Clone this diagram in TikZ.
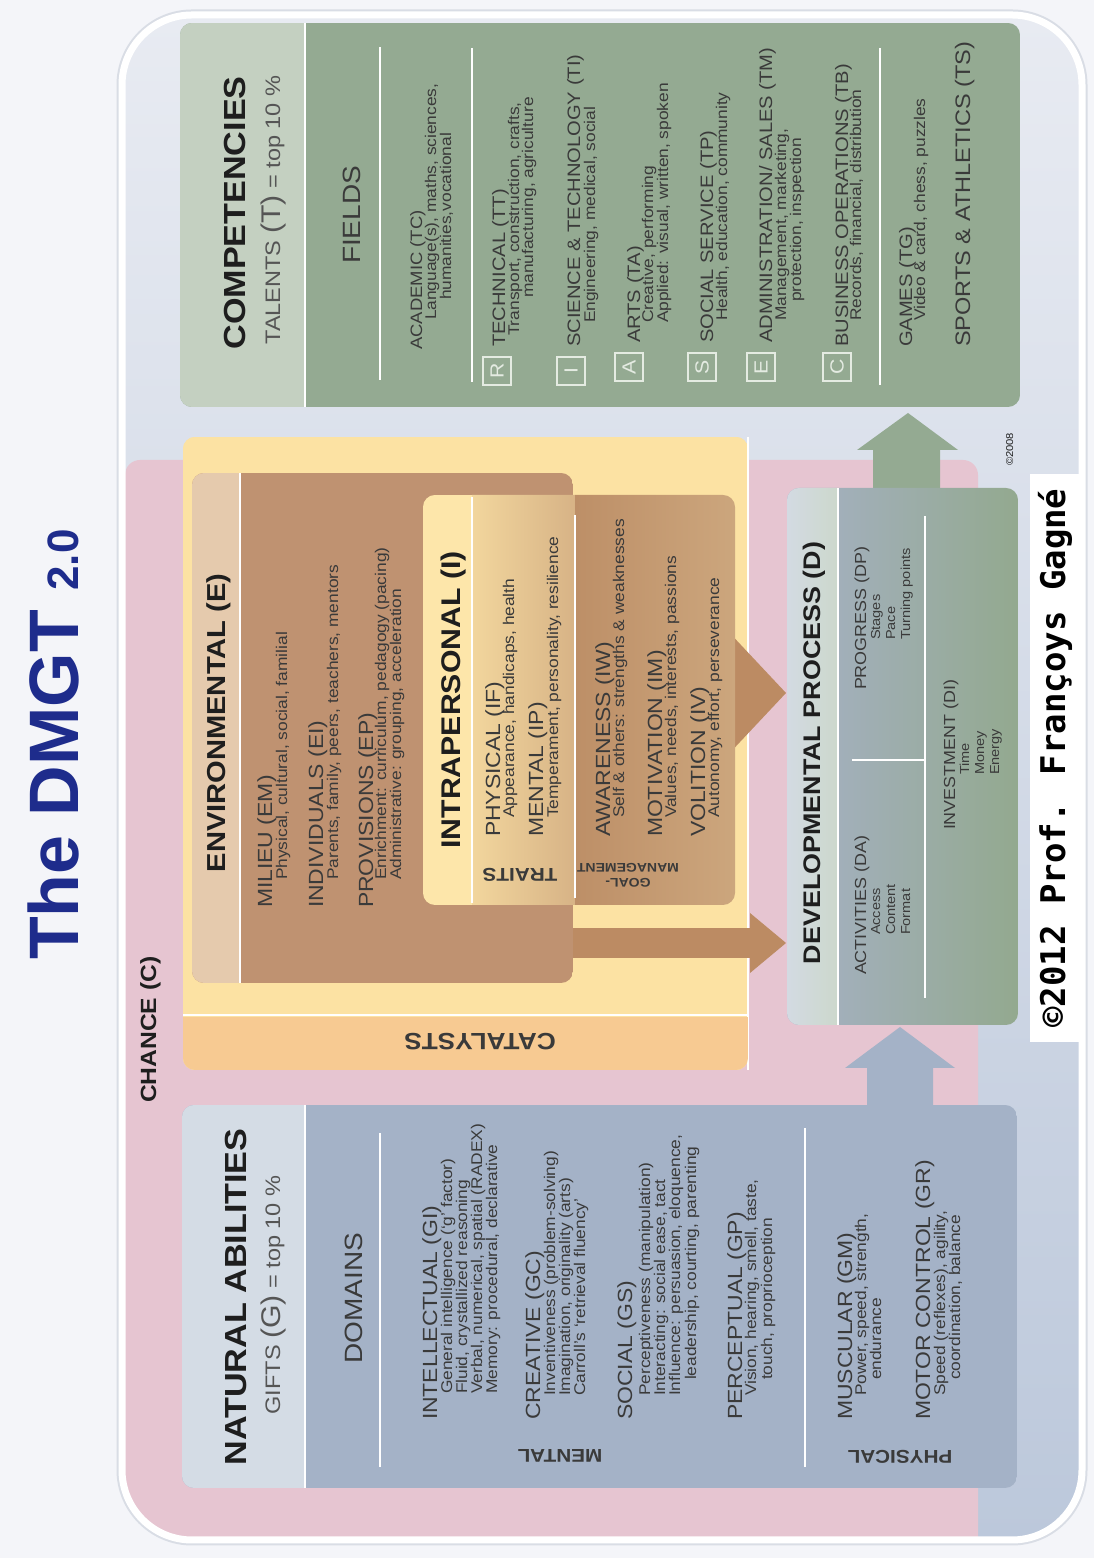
\documentclass[tikz,border=0pt]{standalone}
\usepackage{fontspec}
\setmainfont{Liberation Sans}[FakeStretch=1.12]
\newfontfamily\titlefont{Liberation Sans}
\newfontfamily\bannerfont{DejaVu Sans Mono}
\definecolor{page}{HTML}{F4F5F9}
\definecolor{framein}{HTML}{E8EBF2}
\definecolor{frameout}{HTML}{BCC8DB}
\definecolor{framegray}{HTML}{D9DDE5}
\definecolor{chance}{HTML}{E6C5D1}
\definecolor{nahead}{HTML}{D4DCE5}
\definecolor{nabody}{HTML}{A4B2C7}
\definecolor{cohead}{HTML}{C4D0C1}
\definecolor{cobody}{HTML}{94AA92}
\definecolor{catfill}{HTML}{FCE2A3}
\definecolor{catstrip}{HTML}{F7CA92}
\definecolor{envhead}{HTML}{E5CAAD}
\definecolor{envbody}{HTML}{BF9271}
\definecolor{inthead}{HTML}{FDE6AA}
\definecolor{traitA}{HTML}{F2D69D}
\definecolor{traitB}{HTML}{D7B386}
\definecolor{goalA}{HTML}{BD8F67}
\definecolor{goalB}{HTML}{CCA67D}
\definecolor{arrowbrown}{HTML}{BC8B63}
\definecolor{devheadA}{HTML}{D3DAE2}
\definecolor{devheadB}{HTML}{CCD8CC}
\definecolor{devA}{HTML}{A6B1C6}
\definecolor{devB}{HTML}{93A98F}
\definecolor{titleblue}{HTML}{1E2C8C}
\definecolor{ink}{HTML}{1E1E1E}
\definecolor{subink}{HTML}{555555}
\definecolor{noteink}{HTML}{3A3A3A}
\definecolor{iconline}{HTML}{E4EBE2}

% a rounded box with a header band; #1..#4 corners, #5 header edge, #6 header look, #7 body look
\newcommand\headbox[7]{%
  \begin{scope}
    \clip[rounded corners=12] (#1,#2) rectangle (#3,#4);
    \path[#7] (#1,#2) rectangle (#3,#4);
    \path[#6] (#1,#2) rectangle (#3,#5);
  \end{scope}
  \draw[sep] (#1,#5) -- (#3,#5);}

\tikzset{
  txt/.style={inner sep=0pt, outer sep=0pt, text=ink},
  hbig/.style={txt, anchor=base, font=\bfseries\fontsize{30.5}{30.5}\selectfont},
  hsub/.style={txt, anchor=base, text=subink, font=\fontsize{21}{21}\selectfont},
  hmid/.style={txt, anchor=base, text=noteink, font=\fontsize{25}{25}\selectfont},
  hbox/.style={txt, anchor=base, font=\bfseries\fontsize{26}{26}\selectfont},
  item/.style={txt, anchor=base west, text=noteink, font=\fontsize{20.5}{20.5}\selectfont},
  citem/.style={item, font=\fontsize{18}{18}\selectfont},
  ditem/.style={item, font=\fontsize{16}{16}\selectfont},
  note/.style={txt, anchor=base west, text=noteink, font=\fontsize{15.5}{15.5}\selectfont},
  dnote/.style={note, font=\fontsize{13}{13}\selectfont},
  side/.style={txt, rotate=90, anchor=center, text=noteink, font=\bfseries\fontsize{18.5}{18.5}\selectfont},
  sep/.style={draw=white, line width=2.5pt},
  icon/.style={draw=iconline, line width=1.6pt, minimum size=28pt, inner sep=0pt,
    text=iconline, font=\fontsize{19}{19}\selectfont},
}

\begin{document}
\begin{tikzpicture}
\begin{scope}[rotate=90, transform shape, x=1pt, y=-1pt]
\useasboundingbox (0,0) rectangle (1558,1094);
\fill[page] (0,0) rectangle (1558,1094);

% outer frame and chance field
\draw[line width=11pt, framegray, rounded corners=70] (18,122) rectangle (1543,1082);
\shade[top color=framein, bottom color=frameout, rounded corners=70] (18,122) rectangle (1543,1082);
\begin{scope}
  \clip[rounded corners=70] (18,122) rectangle (1543,1082);
  \fill[chance, rounded corners=15] (0,125) rectangle (1098,978);
\end{scope}
\draw[line width=7pt, white, rounded corners=70] (18,122) rectangle (1543,1082);

% title and chance label
\node[txt, anchor=base west, text=titleblue, font=\titlefont\bfseries\fontsize{70}{70}\selectfont]
  (title) at (598,78) {The DMGT {\fontsize{44}{44}\selectfont 2.0}};
\node[txt, anchor=base west, font=\bfseries\fontsize{22}{22}\selectfont] (chance) at (455,156) {CHANCE (C)};

% catalysts
\headbox{488}{183}{1121}{748}{748}{fill=catfill}{fill=catfill}
\begin{scope}
  \clip[rounded corners=12] (488,183) rectangle (1121,748);
  \fill[catstrip] (488,183) rectangle (541,748);
\end{scope}
\draw[sep] (543,183) -- (543,748);
\node[side, font=\bfseries\fontsize{23.5}{23.5}\selectfont] (catlbl) at (516,480) {CATALYSTS};

% arrows from the catalysts to the developmental process
\fill[arrowbrown] (600,560) rectangle (630,752);
\fill[arrowbrown] (585,750) -- (645,750) -- (615,786) -- cycle;
\fill[arrowbrown] (800,725) -- (930,725) -- (865,786) -- cycle;

% environmental
\headbox{575}{192}{1085}{573}{240}{fill=envhead}{fill=envbody}

% intrapersonal
\begin{scope}
  \clip[rounded corners=12] (653,423) rectangle (1063,735);
  \fill[inthead] (653,423) rectangle (1063,472);
  \shade[left color=traitA, right color=traitB] (653,472) rectangle (1063,575);
  \shade[left color=goalA, right color=goalB] (653,575) rectangle (1063,735);
\end{scope}
\draw[sep] (655,472) -- (1061,472);
\draw[sep] (660,575) -- (1043,575);

% arrows into and out of the developmental process
\fill[nabody] (440,867) -- (490,867) -- (490,845) -- (531,900) -- (490,955) -- (490,933) -- (440,933) -- cycle;
\fill[cobody] (1060,873) -- (1108,873) -- (1108,857) -- (1145,908) -- (1108,958) -- (1108,940) -- (1060,940) -- cycle;

% natural abilities, developmental process, competencies
\headbox{70}{182}{453}{1017}{305}{fill=nahead}{fill=nabody}
\headbox{533}{787}{1070}{1018}{838}{left color=devheadA, right color=devheadB}{left color=devA, right color=devB}
\headbox{1151}{180}{1535}{1020}{305}{fill=cohead}{fill=cobody}

% ---- natural abilities text
\node[hbig] (nahd) at (261,246) {NATURAL ABILITIES};
\node[hsub] (nasub) at (263,280) {GIFTS {\fontsize{27}{27}\selectfont(G)} = top 10 \%};
\node[hmid] (domains) at (260,362) {DOMAINS};
\draw[sep] (91,380) -- (425,380);
\draw[sep] (91,805) -- (430,805);
\node[side] (mental) at (102,560) {MENTAL};
\node[side] (physical) at (101,900) {PHYSICAL};

\node[item] (gi) at (138,437) {INTELLECTUAL (GI)};
\node[note] (gi1) at (164,452) {General intelligence (‘g’ factor)};
\node[note] (gi2) at (164,467) {Fluid, crystallized reasoning};
\node[note] (gi3) at (164,482) {Verbal, numerical, spatial (RADEX)};
\node[note] (gi4) at (164,497) {Memory: procedural, declarative};
\node[item] (gc) at (138,540) {CREATIVE (GC)};
\node[note] (gc1) at (162,555) {Inventiveness (problem-solving)};
\node[note] (gc2) at (162,570) {Imagination, originality (arts)};
\node[note] (gc3) at (162,585) {Carroll’s ‘retrieval fluency’};
\node[item] (gs) at (138,632) {SOCIAL (GS)};
\node[note] (gs1) at (162,650) {Perceptiveness (manipulation)};
\node[note] (gs2) at (162,665) {Interacting: social ease, tact};
\node[note] (gs3) at (162,680) {Influence: persuasion, eloquence,};
\node[note] (gs4) at (178,696) {leadership, courting, parenting};
\node[item] (gp) at (138,742) {PERCEPTUAL (GP)};
\node[note] (gp1) at (162,756) {Vision, hearing, smell, taste,};
\node[note] (gp2) at (178,772) {touch, proprioception};
\node[item] (gm) at (138,852) {MUSCULAR (GM)};
\node[note] (gm1) at (162,866) {Power, speed, strength,};
\node[note] (gm2) at (178,881) {endurance};
\node[item] (gr) at (138,930) {MOTOR CONTROL (GR)};
\node[note] (gr1) at (162,945) {Speed (reflexes), agility,};
\node[note] (gr2) at (178,960) {coordination, balance};

% ---- environmental text
\node[hbox] (envhd) at (835,225) {ENVIRONMENTAL (E)};
\node[item] (em) at (650,272) {MILIEU (EM)};
\node[note] (em1) at (678,287) {Physical, cultural, social, familial};
\node[item] (ei) at (650,323) {INDIVIDUALS (EI)};
\node[note] (ei1) at (678,338) {Parents, family, peers, teachers, mentors};
\node[item] (ep) at (650,373) {PROVISIONS (EP)};
\node[note] (ep1) at (678,386) {Enrichment: curriculum, pedagogy (pacing)};
\node[note] (ep2) at (678,401) {Administrative: grouping, acceleration};

% ---- intrapersonal text
\node[hbox, font=\bfseries\fontsize{27}{27}\selectfont] (inthd) at (858,460) {INTRAPERSONAL (I)};
\node[side] (traits) at (683,520) {TRAITS};
\node[side, align=center, font=\bfseries\fontsize{12.5}{15}\selectfont] (goallbl) at (683,628) {GOAL-\\MANAGEMENT};
\node[item] (if) at (721,500) {PHYSICAL (IF)};
\node[note] (if1) at (740,514) {Appearance, handicaps, health};
\node[item] (ip) at (721,543) {MENTAL (IP)};
\node[note] (ip1) at (740,558) {Temperament, personality, resilience};
\node[item] (iw) at (721,610) {AWARENESS (IW)};
\node[note] (iw1) at (740,624) {Self \& others: strengths \& weaknesses};
\node[item] (im) at (721,662) {MOTIVATION (IM)};
\node[note] (im1) at (740,676) {Values, needs, interests, passions};
\node[item] (iv) at (721,705) {VOLITION (IV)};
\node[note] (iv1) at (740,719) {Autonomy, effort, perseverance};

% ---- developmental process text
\node[hbox, font=\bfseries\fontsize{24}{24}\selectfont] (devhd) at (805,820) {DEVELOPMENTAL PROCESS (D)};
\draw[sep] (798,852) -- (798,925);
\draw[sep] (560,925) -- (1042,925);
\node[ditem] (da) at (583,866) {ACTIVITIES (DA)};
\node[dnote] (da1) at (623,880) {Access};
\node[dnote] (da2) at (623,895) {Content};
\node[dnote] (da3) at (623,910) {Format};
\node[ditem] (dp) at (868,866) {PROGRESS (DP)};
\node[dnote] (dp1) at (918,880) {Stages};
\node[dnote] (dp2) at (918,895) {Pace};
\node[dnote] (dp3) at (918,910) {Turning points};
\node[ditem] (di) at (728,955) {INVESTMENT (DI)};
\node[dnote] (di1) at (783,969) {Time};
\node[dnote] (di2) at (783,984) {Money};
\node[dnote] (di3) at (783,999) {Energy};

% ---- competencies text
\node[hbig] (cohd) at (1345,245) {COMPETENCIES};
\node[hsub] (cosub) at (1348,280) {TALENTS {\fontsize{27}{27}\selectfont(T)} = top 10 \%};
\node[hmid] (fields) at (1343,360) {FIELDS};
\draw[sep] (1178,380) -- (1511,380);
\draw[sep] (1176,472) -- (1510,472);
\draw[sep] (1173,880) -- (1510,880);
\node[citem, font=\fontsize{16.5}{16.5}\selectfont] (tc) at (1208,422) {ACADEMIC (TC)};
\node[note] (tc1) at (1238,436) {Language(s), maths, sciences,};
\node[note] (tc2) at (1258,451) {humanities,vocational};
\node[icon] (icr) at (1187,497) {R};
\node[citem] (tt) at (1211,505) {TECHNICAL (TT)};
\node[note] (tt1) at (1222,519) {Transport, construction, crafts,};
\node[note] (tt2) at (1260,533) {manufacturing, agriculture};
\node[icon] (ici) at (1187,571) {I};
\node[citem] (ti) at (1211,580) {SCIENCE \& TECHNOLOGY (TI)};
\node[note] (ti1) at (1235,595) {Engineering, medical, social};
\node[icon] (ica) at (1191,629) {A};
\node[citem] (ta) at (1215,640) {ARTS (TA)};
\node[note] (ta1) at (1235,653) {Creative, performing};
\node[note] (ta2) at (1235,668) {Applied: visual, written, spoken};
\node[icon] (ics) at (1191,702) {S};
\node[citem] (tp) at (1215,713) {SOCIAL SERVICE (TP)};
\node[note] (tp1) at (1237,727) {Health, education, community};
\node[icon] (ice) at (1191,761) {E};
\node[citem] (tm) at (1215,772) {ADMINISTRATION/ SALES (TM)};
\node[note] (tm1) at (1237,786) {Management, marketing,};
\node[note] (tm2) at (1256,801) {protection, inspection};
\node[icon] (icc) at (1191,837) {C};
\node[citem] (tb) at (1211,848) {BUSINESS OPERATIONS (TB)};
\node[note] (tb1) at (1237,861) {Records, financial, distribution};
\node[citem] (tg) at (1211,912) {GAMES (TG)};
\node[note] (tg1) at (1237,925) {Video \& card, chess, puzzles};
\node[item, font=\fontsize{21}{21}\selectfont] (ts) at (1211,970) {SPORTS \& ATHLETICS (TS)};

% ---- credits
\node[txt, anchor=base west, font=\fontsize{10}{10}\selectfont] (mark) at (1092,1013) {©2008};
\node[fill=white, inner xsep=14pt, inner ysep=0pt, minimum height=50pt, anchor=center,
  font=\bannerfont\bfseries\fontsize{34}{34}\selectfont, text=black] (credit) at (800,1055)
  {©2012 Prof. Françoys Gagné};
\end{scope}
\end{tikzpicture}
\end{document}
